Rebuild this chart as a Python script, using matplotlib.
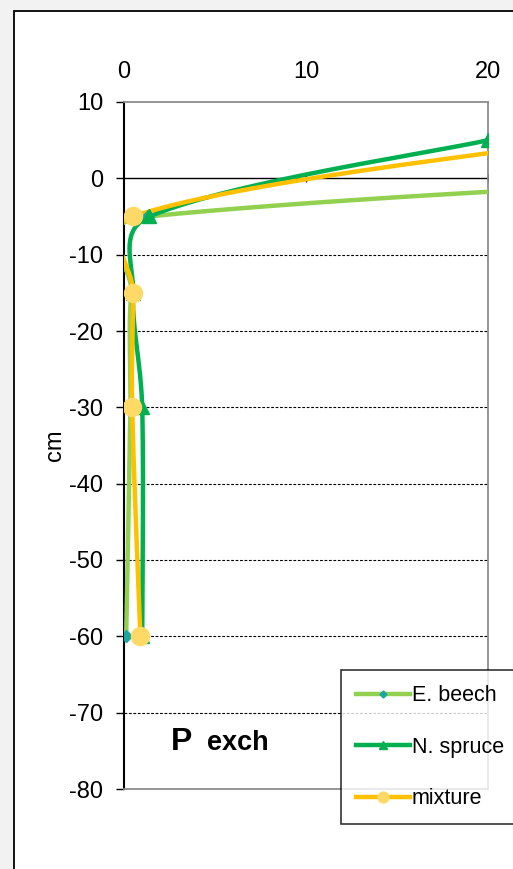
import numpy as np
import matplotlib
matplotlib.use("Agg")
import matplotlib.pyplot as plt
from matplotlib.patches import Rectangle
from matplotlib.lines import Line2D

plt.rcParams['font.family'] = ['Liberation Sans', 'DejaVu Sans']
plt.rcParams['axes.unicode_minus'] = False

# ---- data ----
depth = [5, -5, -15, -30, -60]
beech = [85.0, 1.3, 0.4, 0.35, 0.12]
spruce = [20.0, 1.4, 0.5, 1.0, 1.0]
mixture = [25.0, 0.5, 0.5, 0.45, 0.9]
series_names = ["E. beech", "N. spruce", "mixture"]
xticks = [0, 10, 20]
yticks = [10, 0, -10, -20, -30, -40, -50, -60, -70, -80]

W, H = 513, 869
fig = plt.figure(figsize=(W / 100, H / 100), dpi=100)
fig.patch.set_facecolor('#f2f2f2')
fig.patches.append(Rectangle((14 / W, -0.1), 1.2, 1 - 11 / H + 0.1,
                             transform=fig.transFigure, facecolor='white',
                             edgecolor='black', lw=1.3, zorder=-10))

ax = fig.add_axes([124 / W, 80 / H, 364 / W, 687 / H])
ax.set_xlim(0, 20)
ax.set_ylim(-80, 10)
ax.set_facecolor('white')


def excel_smooth(xs, ys, n=40, t=1 / 6):
    # Bezier smoothing computed in display space, control arms scaled by
    # neighbouring segment lengths to limit overshoot
    pts = ax.transData.transform(np.column_stack([xs, ys]))
    P = np.vstack([pts[0], pts, pts[-1]])
    out = []
    for i in range(1, len(P) - 2):
        p0, p1, p2, p3 = P[i - 1], P[i], P[i + 1], P[i + 2]
        d01 = np.linalg.norm(p1 - p0)
        d12 = np.linalg.norm(p2 - p1)
        d23 = np.linalg.norm(p3 - p2)
        f1 = (2 * d12 / (d01 + d12)) ** 0.6 if d01 > 0 else 1.0
        f2 = (2 * d12 / (d12 + d23)) ** 0.6 if d23 > 0 else 1.0
        c1 = p1 + (p2 - p0) * t * f1
        c2 = p2 - (p3 - p1) * t * f2
        s = np.linspace(0, 1, n)[:, None]
        seg = ((1 - s) ** 3) * p1 + 3 * ((1 - s) ** 2) * s * c1 + 3 * (1 - s) * s ** 2 * c2 + s ** 3 * p2
        out.append(seg if i == 1 else seg[1:])
    out = np.vstack(out)
    d = ax.transData.inverted().transform(out)
    return d[:, 0], d[:, 1]


# grid
for yv in yticks:
    if -80 < yv < 0:
        ax.axhline(yv, color='black', lw=0.8, ls=(0, (2.5, 1.5)), zorder=1)
ax.axhline(0, color='black', lw=1.0, zorder=1)
ax.plot(xticks[1:], [0] * len(xticks[1:]), ls='none', marker='|', ms=6,
        color='black', mew=1.0, zorder=1)

styles = [
    dict(data=beech, lc='#92d050', mk='D', mfc='#1aa7a0', ms=6),
    dict(data=spruce, lc='#00b050', mk='^', mfc='#00b050', ms=10),
    dict(data=mixture, lc='#ffc000', mk='o', mfc='#ffd966', ms=13),
]
handles = []
for name, st in zip(series_names, styles):
    sx, sy = excel_smooth(st['data'], depth)
    ax.plot(sx, sy, color=st['lc'], lw=3.2, zorder=3, solid_capstyle='butt')
    ax.plot(st['data'], depth, ls='none', marker=st['mk'], ms=st['ms'],
            mfc=st['mfc'], mec=st['mfc'], zorder=4)
    handles.append(Line2D([], [], color=st['lc'], lw=3.2, marker=st['mk'],
                          ms=st['ms'] * 0.6, mfc=st['mfc'], mec=st['mfc']))

# spines
for s in ['top', 'right', 'bottom']:
    ax.spines[s].set_color('#8c8c8c')
    ax.spines[s].set_linewidth(1.3)
ax.spines['left'].set_color('black')
ax.spines['left'].set_linewidth(1.5)

ax.xaxis.tick_top()
ax.set_xticks(xticks)
ax.tick_params(axis='x', length=0, pad=14, labelsize=17)
ax.set_yticks(yticks)
ax.tick_params(axis='y', length=6, width=1.0, pad=9, labelsize=17, direction='out')
ax.set_ylabel('cm', fontsize=17)
ax.yaxis.set_label_coords(-0.16, 0.5)

ax.text(2.6, -74.9, 'P', fontsize=23, fontweight='bold', ha='left', va='baseline')
ax.text(4.55, -74.9, 'exch', fontsize=19.5, fontweight='bold', ha='left', va='baseline')

leg = fig.legend(handles, series_names, loc='upper left',
                 bbox_to_anchor=(341 / W, 1 - 670 / H), fontsize=15.5,
                 frameon=True, fancybox=False, handlelength=2.5,
                 handletextpad=0.1, labelspacing=1.42, borderpad=0.7,
                 borderaxespad=0)
leg.get_frame().set_edgecolor('black')
leg.get_frame().set_linewidth(1.2)

fig.savefig('out.png', dpi=100, facecolor=fig.get_facecolor())
